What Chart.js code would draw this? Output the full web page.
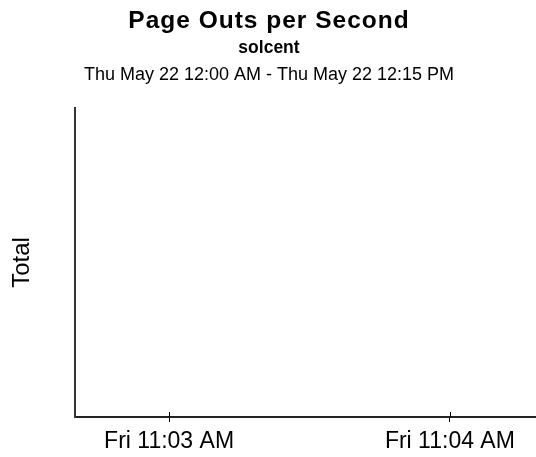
<!DOCTYPE html>
<html>
<head>
<meta charset="utf-8">
<script src="https://cdn.jsdelivr.net/npm/chart.js@4/dist/chart.umd.min.js"></script>
<style>
  html, body { margin: 0; padding: 0; background: #fff; }
  #wrap { width: 536px; height: 457px; }
</style>
</head>
<body>
<div id="wrap"><canvas id="page-outs-chart" width="536" height="457"></canvas></div>
<script>
// Chart text
const chartTitle = 'Page Outs per Second';
const chartHost = 'solcent';
const chartRange = 'Thu May 22 12:00 AM - Thu May 22 12:15 PM';
const yTitle = 'Total';

// X axis ticks (seconds after 11:03 AM) and their labels
const tickValues = [0, 60];
const tickLabels = ['Fri 11:03 AM', 'Fri 11:04 AM'];
const xRange = [-20.1, 78.4];

// Series: nothing was recorded in this window
const seriesTimes = [];
const seriesValues = [];

const FONT = '"Liberation Sans", Arial, Helvetica, sans-serif';

// Title block, centered on the whole picture
const headerPlugin = {
    id: 'header',
    afterDraw(chart) {
        const c = chart.ctx;
        const cx = chart.width / 2 + 1;
        c.save();
        c.fillStyle = '#000';
        c.textAlign = 'center';
        c.textBaseline = 'alphabetic';
        c.letterSpacing = '1px';
        c.font = 'bold 24.5px ' + FONT;
        c.fillText(chartTitle, cx, 28);
        c.letterSpacing = '0px';
        c.font = 'bold 17.5px ' + FONT;
        c.fillText(chartHost, cx, 53);
        c.font = '18px ' + FONT;
        c.fillText(chartRange, cx, 80);
        c.restore();
    }
};

// Small tick marks that cross the x axis
const crossTicks = {
    id: 'crossTicks',
    afterDraw(chart) {
        const x = chart.scales.x;
        const c = chart.ctx;
        c.save();
        c.strokeStyle = '#000';
        c.lineWidth = 1;
        x.ticks.forEach((t, i) => {
            const px = Math.round(x.getPixelForTick(i)) + 0.5;
            c.beginPath();
            c.moveTo(px, x.top - 5);
            c.lineTo(px, x.top);
            c.stroke();
        });
        c.restore();
    }
};

const ctx = document.getElementById('page-outs-chart').getContext('2d');
const chart = new Chart(ctx, {
    type: 'line',
    data: {
        datasets: [{
            label: 'Total',
            data: seriesTimes.map((t, i) => ({ x: t, y: seriesValues[i] })),
            borderColor: '#0000cc',
            pointRadius: 0
        }]
    },
    options: {
        responsive: false,
        animation: false,
        layout: { padding: { top: 108, left: 0, right: 0, bottom: 0 } },
        plugins: {
            legend: { display: false },
            tooltip: { enabled: false },
            title: { display: false }
        },
        scales: {
            x: {
                type: 'linear',
                min: xRange[0],
                max: xRange[1],
                afterBuildTicks(scale) {
                    scale.ticks = tickValues.map(v => ({ value: v }));
                },
                afterFit(scale) { scale.height = 40; },
                ticks: {
                    color: '#000',
                    font: { family: FONT, size: 23 },
                    padding: 6,
                    maxRotation: 0,
                    autoSkip: false,
                    callback: (v, i) => tickLabels[i]
                },
                grid: {
                    drawOnChartArea: false,
                    drawTicks: true,
                    tickLength: 5,
                    color: '#000'
                },
                border: { display: true, color: '#222', width: 2 }
            },
            y: {
                min: 0,
                max: 1,
                ticks: { display: false },
                grid: { display: false, drawTicks: false },
                border: { display: true, color: '#333', width: 2 },
                afterFit(scale) { scale.width = 75; },
                title: {
                    display: true,
                    text: yTitle,
                    color: '#000',
                    font: { family: FONT, size: 24 },
                    padding: { top: 8, bottom: 0 }
                }
            }
        }
    },
    plugins: [headerPlugin, crossTicks]
});
</script>
</body>
</html>
